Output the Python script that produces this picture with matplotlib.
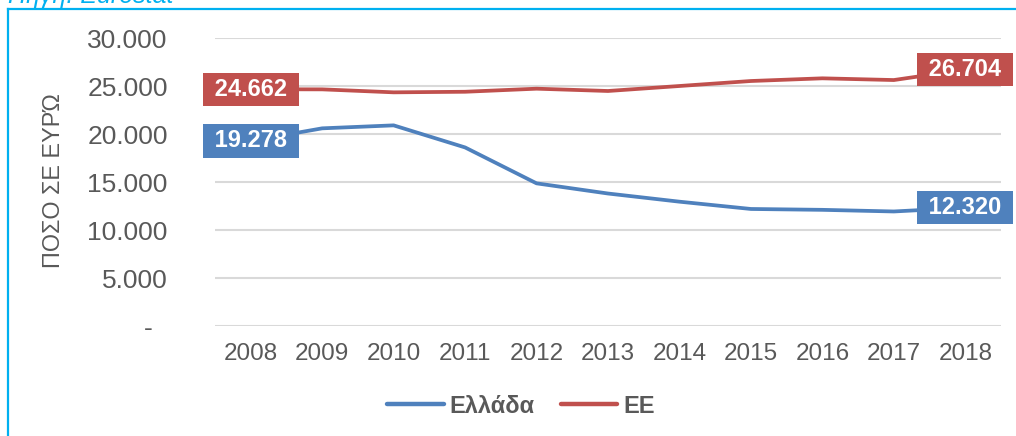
import matplotlib
matplotlib.use("Agg")
import matplotlib.pyplot as plt
from matplotlib.lines import Line2D
from matplotlib.ticker import FuncFormatter

plt.rcParams['font.family'] = ['Liberation Sans', 'DejaVu Sans']

years = ['2008', '2009', '2010', '2011', '2012', '2013', '2014', '2015', '2016', '2017', '2018']
greece = [19278, 20590, 20900, 18600, 14860, 13800, 12950, 12190, 12100, 11930, 12320]
eu = [24662, 24650, 24340, 24400, 24720, 24480, 25000, 25520, 25800, 25620, 26704]
series_names = ['Ελλάδα', 'ΕΕ']
colors = ['#4F81BD', '#C0504D']
ylabel = 'ΠΟΣΟ ΣΕ ΕΥΡΏ'
source = 'Πηγή: Eurostat'

W, H = 1016, 436
fig = plt.figure(figsize=(W / 100, H / 100), dpi=100)
ax = fig.add_axes([215 / W, (H - 326) / H, (1001 - 215) / W, (326 - 38) / H])

x = list(range(len(years)))
for vals, name, col in zip([greece, eu], series_names, colors):
    ax.plot(x, vals, color=col, lw=2.7, label=name, zorder=3, solid_capstyle='round')
    for i in (0, len(vals) - 1):
        ax.text(x[i], vals[i], ' ' + f"{vals[i]:,}".replace(',', '.') + ' ',
                ha='center', va='center', color='white', fontsize=17, fontweight='bold',
                zorder=5,
                bbox=dict(boxstyle='square,pad=0.22', facecolor=col, edgecolor='none'))

ax.set_xlim(-0.5, len(years) - 0.5)
ax.set_ylim(0, 30000)
ax.set_yticks(range(0, 30001, 5000))
ax.set_xticks(x)
ax.set_xticklabels(years)


def fmt(v, pos):
    if v == 0:
        return '-  '
    return f"{int(v):,}".replace(',', '.')


ax.yaxis.set_major_formatter(FuncFormatter(fmt))
ax.grid(axis='y', color='#D9D9D9', lw=1.5)
ax.set_axisbelow(True)
for s in ax.spines.values():
    s.set_visible(False)
ax.tick_params(axis='both', length=0, colors='#595959')
ax.tick_params(axis='y', labelsize=19, pad=34)
ax.tick_params(axis='x', labelsize=17.5, pad=12)

fig.text(54 / W, (H - 181) / H, ylabel, rotation=90, ha='center', va='center',
         fontsize=16.8, color='#595959')

leg = fig.legend(loc='center', bbox_to_anchor=(521 / W, 1 - 406 / H), ncol=2,
                 frameon=False, handlelength=2.4, handletextpad=0.25, columnspacing=1.1,
                 prop={'size': 17, 'weight': 'bold'})
for t in leg.get_texts():
    t.set_color('#595959')
for h in leg.legend_handles:
    h.set_linewidth(3.2)

# border (top and left) and clipped source text
border = '#00B0F0'
fig.add_artist(Line2D([8 / W, 1.0], [1 - 9 / H, 1 - 9 / H], color=border, lw=1.6,
                      transform=fig.transFigure))
fig.add_artist(Line2D([8 / W, 8 / W], [0, 1 - 9 / H], color=border, lw=1.6,
                      transform=fig.transFigure))
fig.text(8 / W, 1 - 2.7 / H, source, ha='left', va='baseline', fontsize=18,
         style='italic', color=border)

fig.savefig('out.png', dpi=100)
